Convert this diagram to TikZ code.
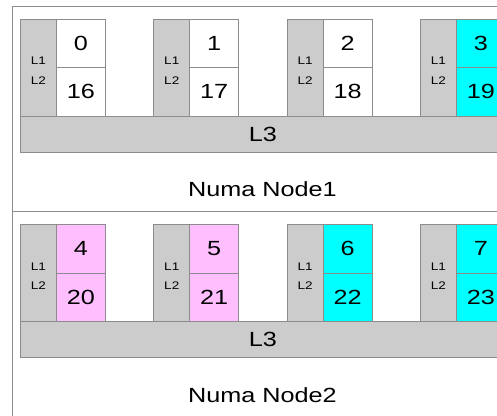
\documentclass[tikz,border=0pt]{standalone}
\usepackage{fontspec}
\setmainfont{Liberation Sans}
\definecolor{edge}{HTML}{8C8C8C}
\definecolor{cachefill}{HTML}{CCCCCC}
\definecolor{pinkcore}{HTML}{FFBFFF}
\definecolor{cyancore}{HTML}{00FFFF}
\newcommand{\wide}[1]{\scalebox{1.23}[1]{#1}}
\tikzset{
  cachebox/.style={draw=edge, fill=cachefill, line width=0.9pt, inner sep=0pt, minimum width=36pt, minimum height=97pt, anchor=north west},
  smalltxt/.style={font=\fontsize{11}{12}\selectfont, inner sep=0pt},
  corebox/.style={draw=edge, line width=0.9pt, inner sep=0pt, minimum width=49pt, minimum height=48.5pt, anchor=north west,
    font=\fontsize{20.5}{24}\selectfont},
  lthree/.style={draw=edge, fill=cachefill, line width=0.9pt, inner sep=0pt, minimum width=485pt, minimum height=36pt, anchor=north west,
    font=\fontsize{20.5}{24}\selectfont},
  numabox/.style={draw=edge, line width=0.9pt},
  numalabel/.style={font=\fontsize{20.5}{24}\selectfont, inner sep=0pt}
}
\begin{document}
\begin{tikzpicture}[x=1pt,y=-1pt]
\clip (0,0) rectangle (497,415);
\fill[white] (0,0) rectangle (497,415);
% outer numa boxes
\draw[numabox] (12,6.7) rectangle (520,211.5);
\draw[numabox] (12,211.5) rectangle (520,430);
% Node 1
\foreach \i/\a/\b/\c in {0/0/16/white,1/1/17/white,2/2/18/white,3/3/19/cyancore}{
  \node[cachebox] (ca\i) at ({20+133.3*\i},18.5) {};
  \node[smalltxt] (cat\i) at ([yshift=6.5pt]ca\i.center) {\wide{L1}};
  \node[smalltxt] (cab\i) at ([yshift=-13pt]ca\i.center) {\wide{L2}};
  \node[corebox, fill=\c] (ta\i) at ({56+133.3*\i},18.5) {\raisebox{-2pt}{\wide{\a}}};
  \node[corebox, fill=\c] (ba\i) at ({56+133.3*\i},67) {\raisebox{-1pt}{\wide{\b}}};
}
\node[lthree] (la) at (20,115.5) {\wide{L3}};
\node[numalabel] (na) at (262.5,189.2) {\wide{Numa Node1}};
% Node 2
\foreach \i/\a/\b/\c in {0/4/20/pinkcore,1/5/21/pinkcore,2/6/22/cyancore,3/7/23/cyancore}{
  \node[cachebox] (cb\i) at ({20+133.3*\i},224.2) {};
  \node[smalltxt] (cbt\i) at ([yshift=6.5pt]cb\i.center) {\wide{L1}};
  \node[smalltxt] (cbb\i) at ([yshift=-13pt]cb\i.center) {\wide{L2}};
  \node[corebox, fill=\c] (tb\i) at ({56+133.3*\i},224.2) {\raisebox{-2pt}{\wide{\a}}};
  \node[corebox, fill=\c] (bb\i) at ({56+133.3*\i},272.7) {\raisebox{-1pt}{\wide{\b}}};
}
\node[lthree] (lb) at (20,321.2) {\wide{L3}};
\node[numalabel] (nb) at (262.5,394.9) {\wide{Numa Node2}};
\end{tikzpicture}
\end{document}
